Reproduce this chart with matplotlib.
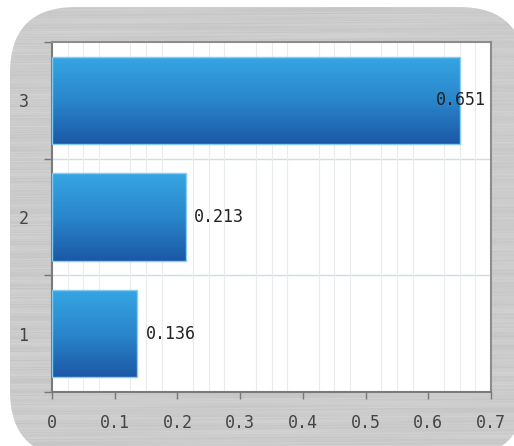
import numpy as np
import matplotlib
matplotlib.use("Agg")
import matplotlib.pyplot as plt
from matplotlib.patches import FancyBboxPatch
from matplotlib.colors import LinearSegmentedColormap

categories = ["1", "2", "3"]
values = [0.136, 0.213, 0.651]
x_ticks = [0, 0.1, 0.2, 0.3, 0.4, 0.5, 0.6, 0.7]
x_tick_labels = ["0", "0.1", "0.2", "0.3", "0.4", "0.5", "0.6", "0.7"]

W, H = 514, 446
fig = plt.figure(figsize=(W / 100, H / 100), dpi=100)
fig.patch.set_facecolor("white")

# brushed metal panel behind the chart
bg = fig.add_axes([0, 0, 1, 1], zorder=-5)
bg.set_xlim(0, W)
bg.set_ylim(H, 0)
bg.axis("off")
yy, xx = np.mgrid[0:H, 0:W]
tex = (203
       + 3.0 * np.sin(yy * 1.3 + 2.0 * np.sin(xx * 0.011 + yy * 0.7))
       + 2.5 * np.sin(yy * 0.41 + 1.2 * np.sin(xx * 0.017 + yy))
       + 1.5 * np.sin(yy * 2.7 + xx * 0.003))
tex = np.clip(tex, 0, 255) / 255.0
img = bg.imshow(tex, cmap="gray", vmin=0, vmax=1, extent=(0, W, H, 0),
                interpolation="bilinear", aspect="auto")
panel = FancyBboxPatch((10, 7), 515, 450, boxstyle="round,pad=0,rounding_size=66",
                       transform=bg.transData, facecolor="none", edgecolor="none")
bg.add_patch(panel)
img.set_clip_path(panel)

# main plot
ax = fig.add_axes([52 / W, 1 - 392 / H, (491 - 52) / W, (392 - 42) / H])
ax.set_facecolor("white")
ypos = np.arange(1, len(categories) + 1)
bars = ax.barh(ypos, values, height=0.75, color="none", edgecolor="#86cbf2",
               linewidth=1.0, zorder=4)

grad = LinearSegmentedColormap.from_list("blue", ["#1b58a5", "#2a86cc", "#36a6e3"])
g = np.linspace(0, 1, 256).reshape(-1, 1)
for b in bars:
    x0, y0, w, h = b.get_x(), b.get_y(), b.get_width(), b.get_height()
    im = ax.imshow(g, cmap=grad, aspect="auto", extent=(x0, x0 + w, y0, y0 + h),
                   origin="lower", zorder=3)
    im.set_clip_path(b)

ax.set_xlim(0, 0.7)
ax.set_ylim(0.5, 3.5)
ax.set_xticks(x_ticks)
ax.set_xticklabels(x_tick_labels)
ax.set_xticks(np.arange(0, 0.701, 0.025), minor=True)
ax.set_yticks(ypos)
ax.set_yticklabels(categories)
ax.set_yticks([0.5, 1.5, 2.5, 3.5], minor=True)

ax.grid(which="minor", axis="x", color="#e8ecee", linewidth=0.8, zorder=0)
for yb in [1.5, 2.5]:
    ax.axhline(yb, color="#c9e0e4", linewidth=1.0, zorder=1)

ax.tick_params(axis="x", which="major", length=5, width=1, color="#777777",
               labelsize=12, labelcolor="#444444", pad=11)
ax.tick_params(axis="x", which="minor", length=0)
ax.tick_params(axis="y", which="major", length=0, labelsize=12,
               labelcolor="#444444", pad=17)
ax.tick_params(axis="y", which="minor", length=6, width=1, color="#777777")
for lab in ax.get_xticklabels() + ax.get_yticklabels():
    lab.set_family("DejaVu Sans Mono")

for side in ["left", "bottom"]:
    ax.spines[side].set_color("#7a7a7a")
    ax.spines[side].set_linewidth(1.5)
for side in ["top", "right"]:
    ax.spines[side].set_color("#8c8c8c")
    ax.spines[side].set_linewidth(1.5)

for y, v in zip(ypos, values):
    if v + 0.1 > 0.7:
        ax.text(0.692, y, f"{v:.3f}", ha="right", va="center", fontsize=12,
                family="DejaVu Sans Mono", color="#222222", zorder=6)
    else:
        ax.text(v + 0.013, y, f"{v:.3f}", ha="left", va="center", fontsize=12,
                family="DejaVu Sans Mono", color="#222222", zorder=6)

fig.savefig("out.png", dpi=100)
